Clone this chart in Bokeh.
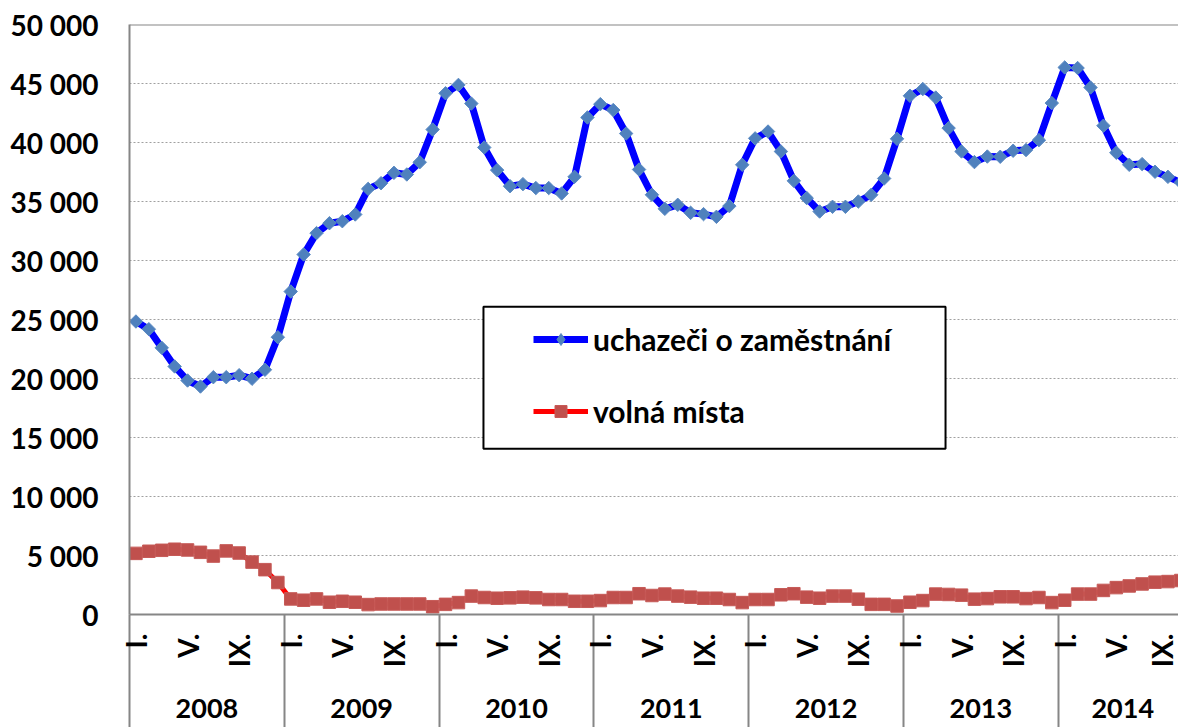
import math
from bokeh.plotting import figure
from bokeh.models import (Range1d, FixedTicker, LinearAxis, Span, Legend,
                          LegendItem, BoxAnnotation)
from bokeh.embed import file_html
from bokeh.resources import INLINE

# ---------------- data ----------------
years = [2008, 2009, 2010, 2011, 2012, 2013, 2014]
month_tick_labels = ["I.", "V.", "IX."]
month_tick_index = [0, 4, 8]

uchazeci = [24830, 24180, 22600, 21020, 19830, 19320, 20110, 20110, 20280, 19980, 20740, 23500,
            27370, 30510, 32320, 33160, 33330, 33900, 36070, 36550, 37430, 37290, 38330, 41100,
            44170, 44880, 43300, 39580, 37660, 36300, 36470, 36140, 36140, 35680, 37090, 42120,
            43250, 42750, 40760, 37710, 35570, 34380, 34720, 34040, 33930, 33700, 34610, 38110,
            40350, 40930, 39240, 36750, 35290, 34150, 34550, 34550, 35000, 35570, 36950, 40310,
            43960, 44530, 43810, 41220, 39240, 38340, 38810, 38790, 39300, 39360, 40200, 43340,
            46360, 46310, 44660, 41420, 39130, 38110, 38170, 37520, 37090, 36610]

volna_mista = [5180, 5360, 5440, 5530, 5470, 5270, 4950, 5390, 5210, 4440, 3800, 2710,
               1320, 1210, 1320, 1040, 1120, 1040, 840, 890, 890, 890, 890, 660,
               860, 1010, 1560, 1440, 1380, 1410, 1470, 1410, 1270, 1270, 1120, 1120,
               1180, 1440, 1440, 1760, 1610, 1730, 1560, 1470, 1380, 1380, 1270, 1010,
               1270, 1270, 1670, 1760, 1470, 1380, 1560, 1560, 1300, 860, 860, 720,
               1040, 1180, 1730, 1700, 1640, 1300, 1350, 1500, 1500, 1350, 1440, 1010,
               1210, 1730, 1730, 2040, 2280, 2420, 2590, 2740, 2790, 2880]

y_ticks = list(range(0, 50001, 5000))

# ---------------- derived ----------------
n = len(uchazeci)
x = [i + 0.5 for i in range(n)]

FONT = "Lato"
GRAY = "#868686"
BELOW = 113

p = figure(width=1178, height=727,
           x_range=Range1d(0, 81.32), y_range=Range1d(0, 50000),
           output_backend="svg", toolbar_location=None,
           min_border_left=129, min_border_right=0,
           min_border_top=24, min_border_bottom=BELOW)
p.outline_line_color = None
p.background_fill_color = "white"
p.border_fill_color = "white"

# grid
p.xgrid.visible = False
p.ygrid.ticker = FixedTicker(ticks=y_ticks[1:-1])
p.ygrid.grid_line_color = "#a0a0a0"
p.ygrid.grid_line_dash = "2 2"
p.ygrid.grid_line_width = 1

# y axis
ya = p.yaxis[0]
ya.ticker = FixedTicker(ticks=y_ticks)
ya.major_label_overrides = {v: f"{v:,}".replace(",", " ") for v in y_ticks}
ya.axis_line_color = GRAY
ya.axis_line_width = 2
ya.major_tick_out = 0
ya.major_tick_in = 0
ya.minor_tick_out = 0
ya.minor_tick_in = 0
ya.major_label_standoff = 31
ya.major_label_text_font = FONT
ya.major_label_text_font_style = "bold"
ya.major_label_text_font_size = "28px"
ya.major_label_text_color = "black"

# x axis 1: months + year separators (long minor ticks)
tick_pos = []
overrides = {}
for k in range(len(years)):
    for lab, m in zip(month_tick_labels, month_tick_index):
        idx = 12 * k + m
        if idx < n:
            tick_pos.append(idx + 0.5)
            overrides[idx + 0.5] = lab
boundaries = [12 * k for k in range(len(years))]

xa = p.xaxis[0]
xa.ticker = FixedTicker(ticks=tick_pos, minor_ticks=boundaries)
xa.major_label_overrides = overrides
xa.major_label_orientation = math.pi / 2
xa.axis_line_color = GRAY
xa.axis_line_width = 2
xa.major_tick_out = 0
xa.major_tick_in = 0
xa.minor_tick_in = 0
xa.minor_tick_out = BELOW
xa.minor_tick_line_color = GRAY
xa.minor_tick_line_width = 2
xa.major_label_standoff = 19 - BELOW
xa.major_label_text_font = FONT
xa.major_label_text_font_style = "bold"
xa.major_label_text_font_size = "28px"
xa.major_label_text_color = "black"

# x axis 2: years
year_centers = []
year_over = {}
for k, yr in enumerate(years):
    start = 12 * k
    end = min(12 * k + 12, n)
    c = (start + end) / 2
    year_centers.append(c)
    year_over[c] = str(yr)
xa2 = LinearAxis(ticker=FixedTicker(ticks=year_centers, minor_ticks=[]),
                 major_label_overrides=year_over)
xa2.axis_line_color = None
xa2.major_tick_out = 0
xa2.major_tick_in = 0
xa2.minor_tick_out = 0
xa2.minor_tick_in = 0
xa2.major_label_standoff = 28
xa2.major_label_text_font = FONT
xa2.major_label_text_font_style = "bold"
xa2.major_label_text_font_size = "27px"
xa2.major_label_text_color = "black"
p.add_layout(xa2, "below")

# top border line
p.add_layout(Span(location=50000, dimension="width", line_color=GRAY, line_width=2))

# series
red_line = p.line(x, volna_mista, line_color="#FF0000", line_width=5, line_join="round")
red_pts = p.scatter(x, volna_mista, marker="square", size=12.5,
                    fill_color="#C0504D", line_color="#C65a57", line_width=1)
blue_line = p.line(x, uchazeci, line_color="#0000FF", line_width=7, line_join="round")
# diamond key used by the legend (tiny in the plot, hidden under the markers)
blue_key = p.scatter(x, uchazeci, marker="diamond", size=1,
                     fill_color="#4F81BD", line_color="#5a8ac2", line_width=1)
blue_pts = p.scatter(x, uchazeci, marker="square", angle=math.pi / 4, size=9.5,
                     fill_color="#4F81BD", line_color="#5a8ac2", line_width=1)

# legend frame
box = BoxAnnotation(left=27.44, right=63.26, top=26076, bottom=14042,
                    fill_color="white", fill_alpha=1.0,
                    line_color="black", line_width=2, line_alpha=1.0)
p.add_layout(box)

legend = Legend(items=[LegendItem(label="uchazeči o zaměstnání", renderers=[blue_line, blue_key]),
                       LegendItem(label="volná místa", renderers=[red_line, red_pts])],
                location=(404, 183))
legend.padding = 10
legend.glyph_width = 55
legend.glyph_height = 30
legend.label_height = 40
legend.label_standoff = 5
legend.spacing = 32
legend.border_line_color = None
legend.background_fill_alpha = 0
legend.label_text_font = FONT
legend.label_text_font_style = "bold"
legend.label_text_font_size = "30px"
legend.label_text_color = "black"
p.add_layout(legend)

open("out.html", "w").write(file_html(p, INLINE))
